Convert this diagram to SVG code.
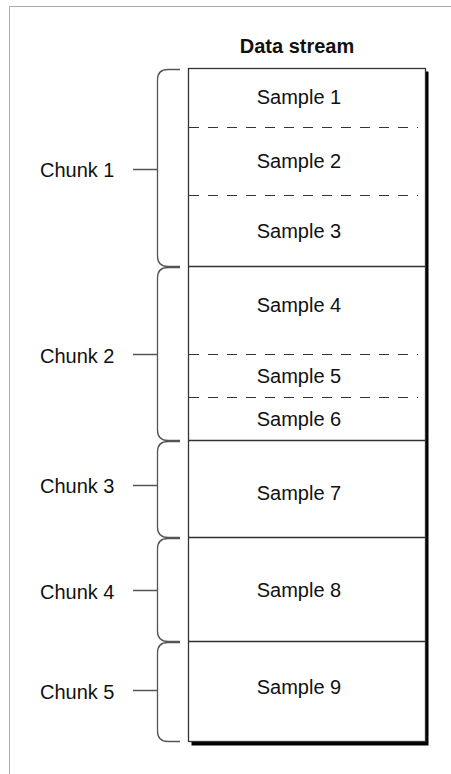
<svg xmlns="http://www.w3.org/2000/svg" width="451" height="774" viewBox="0 0 451 774">
  <style>
    .lbl { font-family: "Liberation Sans", Arial, sans-serif; font-size: 20px; fill: #111; }
    .title { font-family: "Liberation Sans", Arial, sans-serif; font-size: 20px; font-weight: bold; fill: #111; }
    .brace { fill: none; stroke: #555; stroke-width: 1.3; }
    .solid { stroke: #333; stroke-width: 1.3; }
    .dash { stroke: #333; stroke-width: 1.2; stroke-dasharray: 10 9; }
  </style>
  <rect width="451" height="774" fill="#fff"/>
  <!-- outer frame -->
  <path d="M9.5 774 V6.5 H451" fill="none" stroke="#aaa" stroke-width="1"/>

  <text class="title" x="297" y="53" text-anchor="middle">Data stream</text>

  <!-- stream column with drop shadow -->
  <g id="stream">
    <rect x="191.5" y="71.5" width="237" height="674" fill="#000"/>
    <rect x="188.5" y="68.5" width="237" height="673" fill="#fff" stroke="#333" stroke-width="1.3"/>
    <line class="solid" x1="188.5" y1="266.5" x2="425.5" y2="266.5"/>
    <line class="solid" x1="188.5" y1="440.5" x2="425.5" y2="440.5"/>
    <line class="solid" x1="188.5" y1="537.5" x2="425.5" y2="537.5"/>
    <line class="solid" x1="188.5" y1="641.5" x2="425.5" y2="641.5"/>
    <line class="dash" x1="189" y1="127.5" x2="418" y2="127.5"/>
    <line class="dash" x1="189" y1="195.5" x2="418" y2="195.5"/>
    <line class="dash" x1="189" y1="354.5" x2="418" y2="354.5"/>
    <line class="dash" x1="189" y1="397.5" x2="418" y2="397.5"/>
  </g>

  <g id="sample1"><text class="lbl" x="299" y="104" text-anchor="middle">Sample 1</text></g>
  <g id="sample2"><text class="lbl" x="299" y="168" text-anchor="middle">Sample 2</text></g>
  <g id="sample3"><text class="lbl" x="299" y="238" text-anchor="middle">Sample 3</text></g>
  <g id="sample4"><text class="lbl" x="299" y="312" text-anchor="middle">Sample 4</text></g>
  <g id="sample5"><text class="lbl" x="299" y="383" text-anchor="middle">Sample 5</text></g>
  <g id="sample6"><text class="lbl" x="299" y="426" text-anchor="middle">Sample 6</text></g>
  <g id="sample7"><text class="lbl" x="299" y="500" text-anchor="middle">Sample 7</text></g>
  <g id="sample8"><text class="lbl" x="299" y="597" text-anchor="middle">Sample 8</text></g>
  <g id="sample9"><text class="lbl" x="299" y="694" text-anchor="middle">Sample 9</text></g>

  <!-- chunk braces -->
  <g id="connectors">
    <path class="brace" d="M180 69.5 H168 Q157.5 69.5 157.5 80 V256 Q157.5 266.5 168 266.5 H180 M133 169.5 H157.5"/>
    <path class="brace" d="M180 267.5 H168 Q157.5 267.5 157.5 278 V430 Q157.5 440.5 168 440.5 H180 M133 354.5 H157.5"/>
    <path class="brace" d="M180 441.5 H168 Q157.5 441.5 157.5 452 V527 Q157.5 537.5 168 537.5 H180 M133 485.5 H157.5"/>
    <path class="brace" d="M180 538.5 H168 Q157.5 538.5 157.5 549 V631 Q157.5 641.5 168 641.5 H180 M133 590.5 H157.5"/>
    <path class="brace" d="M180 642.5 H168 Q157.5 642.5 157.5 653 V731 Q157.5 741.5 168 741.5 H180 M133 690.5 H157.5"/>
  </g>

  <g id="chunk1"><text class="lbl" x="40" y="177">Chunk 1</text></g>
  <g id="chunk2"><text class="lbl" x="40" y="363">Chunk 2</text></g>
  <g id="chunk3"><text class="lbl" x="40" y="493">Chunk 3</text></g>
  <g id="chunk4"><text class="lbl" x="40" y="599">Chunk 4</text></g>
  <g id="chunk5"><text class="lbl" x="40" y="699">Chunk 5</text></g>
</svg>
